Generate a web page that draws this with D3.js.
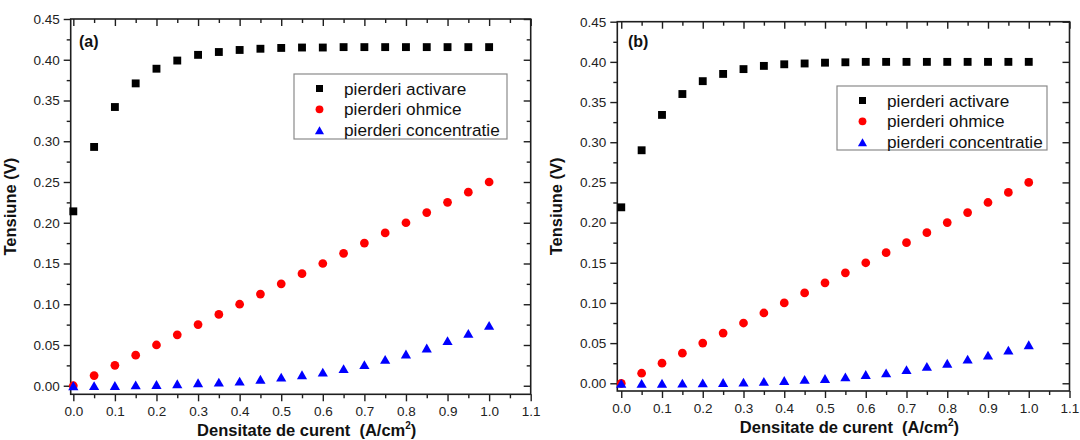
<!DOCTYPE html>
<html>
<head>
<meta charset="utf-8">
<script src="https://cdn.jsdelivr.net/npm/d3@7"></script>
<style>
  html, body { margin: 0; padding: 0; background: #fff; }
  svg { display: block; font-family: Arial, "Liberation Sans", sans-serif; }
</style>
</head>
<body>
<svg id="chart" width="1080" height="440"></svg>
<script>
// Current density (A/cm2), shared by both panels
const currentDensity = [0, 0.05, 0.1, 0.15, 0.2, 0.25, 0.3, 0.35, 0.4, 0.45, 0.5,
                        0.55, 0.6, 0.65, 0.7, 0.75, 0.8, 0.85, 0.9, 0.95, 1.0];

// Panel (a) losses (V)
const activareA = [0.214, 0.293, 0.342, 0.371, 0.389, 0.399, 0.406, 0.4095, 0.412, 0.4135, 0.4145,
                   0.415, 0.415, 0.4155, 0.4155, 0.4155, 0.4155, 0.4155, 0.4155, 0.4155, 0.4155];
const ohmiceA = [0, 0.0125, 0.025, 0.0375, 0.05, 0.0625, 0.075, 0.0875, 0.1, 0.1125, 0.125,
                 0.1375, 0.15, 0.1625, 0.175, 0.1875, 0.2, 0.2125, 0.225, 0.2375, 0.25];
const concentratieA = [0, 0.0001, 0.0003, 0.001, 0.0016, 0.0025, 0.0037, 0.0045, 0.0057, 0.008, 0.0107,
                       0.0135, 0.0168, 0.021, 0.026, 0.0324, 0.039, 0.0463, 0.0553, 0.0643, 0.0742];

// Panel (b) losses (V)
const activareB = [0.219, 0.290, 0.334, 0.360, 0.376, 0.385, 0.391, 0.395, 0.397, 0.398, 0.399,
                   0.3995, 0.400, 0.400, 0.400, 0.400, 0.400, 0.400, 0.400, 0.400, 0.400];
const ohmiceB = [0, 0.0125, 0.025, 0.0375, 0.05, 0.0625, 0.075, 0.0875, 0.1, 0.1125, 0.125,
                 0.1375, 0.15, 0.1625, 0.175, 0.1875, 0.2, 0.2125, 0.225, 0.2375, 0.25];
const concentratieB = [0, 0, 0.0001, 0.0002, 0.0005, 0.001, 0.0015, 0.0025, 0.0035, 0.005, 0.006,
                       0.008, 0.011, 0.013, 0.017, 0.021, 0.025, 0.030, 0.035, 0.0414, 0.048];

// Axis ticks
const xTicks = [0, 0.1, 0.2, 0.3, 0.4, 0.5, 0.6, 0.7, 0.8, 0.9, 1.0, 1.1];
const xMinorTicks = [0.05, 0.15, 0.25, 0.35, 0.45, 0.55, 0.65, 0.75, 0.85, 0.95, 1.05];
const yTicks = [0, 0.05, 0.1, 0.15, 0.2, 0.25, 0.3, 0.35, 0.4, 0.45];
const yMinorTicks = [0.025, 0.075, 0.125, 0.175, 0.225, 0.275, 0.325, 0.375, 0.425];

// Series names
const seriesNames = ["pierderi activare", "pierderi ohmice", "pierderi concentratie"];
const panelLabels = ["(a)", "(b)"];
const xTitle = "Densitate de curent  (A/cm";
const yTitle = "Tensiune (V)";

const svg = d3.select("#chart");
const ink = "#1e1e1e";

const seriesStyle = [
  { symbol: d3.symbolSquare, size: 62, color: "#000000", dy: 0 },
  { symbol: d3.symbolCircle, size: 60, color: "#ff0000", dy: 0 },
  { symbol: d3.symbolTriangle, size: 45, color: "#0000ff", dy: 1.5 }
];

const panels = [
  {
    label: panelLabels[0],
    series: [activareA, ohmiceA, concentratieA],
    left: 70.7, right: 530.7, xMin: -0.0063,
    top: 19, bottom: 394.3, yMin: -0.0105,
    labelX: 79, labelY: 47,
    legend: { x: 294, y: 74, w: 213, h: 65 }
  },
  {
    label: panelLabels[1],
    series: [activareB, ohmiceB, concentratieB],
    left: 617.3, right: 1069.5, xMin: -0.0097,
    top: 21.7, bottom: 391, yMin: -0.0096,
    labelX: 628, labelY: 47,
    legend: { x: 837, y: 86, w: 210, h: 64 }
  }
];

panels.forEach(p => {
  const x = d3.scaleLinear().domain([p.xMin, 1.1]).range([p.left, p.right]);
  const y = d3.scaleLinear().domain([p.yMin, 0.45]).range([p.bottom, p.top]);
  const g = svg.append("g");

  const styleAxis = sel => {
    sel.select(".domain").remove();
    sel.selectAll(".tick line").attr("stroke", ink).attr("stroke-width", 1.4);
    sel.selectAll(".tick text").attr("fill", "#222").style("font-size", "13.5px")
       .style("font-family", "Arial, 'Liberation Sans', sans-serif");
  };

  // bottom axis (outward ticks, labels)
  g.append("g").attr("transform", `translate(0,${p.bottom})`)
    .call(d3.axisBottom(x).tickValues(xTicks).tickSize(7).tickPadding(5).tickFormat(d3.format(".1f")))
    .call(styleAxis);
  g.append("g").attr("transform", `translate(0,${p.bottom})`)
    .call(d3.axisBottom(x).tickValues(xMinorTicks).tickSize(4).tickFormat(""))
    .call(styleAxis);

  // top axis (inward ticks)
  g.append("g").attr("transform", `translate(0,${p.top})`)
    .call(d3.axisBottom(x).tickValues(xTicks).tickSize(7).tickFormat(""))
    .call(styleAxis);
  g.append("g").attr("transform", `translate(0,${p.top})`)
    .call(d3.axisBottom(x).tickValues(xMinorTicks).tickSize(4).tickFormat(""))
    .call(styleAxis);

  // left axis (outward ticks, labels)
  g.append("g").attr("transform", `translate(${p.left},0)`)
    .call(d3.axisLeft(y).tickValues(yTicks).tickSize(7).tickPadding(4).tickFormat(d3.format(".2f")))
    .call(styleAxis);
  g.append("g").attr("transform", `translate(${p.left},0)`)
    .call(d3.axisLeft(y).tickValues(yMinorTicks).tickSize(4).tickFormat(""))
    .call(styleAxis);

  // right axis (inward ticks)
  g.append("g").attr("transform", `translate(${p.right},0)`)
    .call(d3.axisLeft(y).tickValues(yTicks).tickSize(7).tickFormat(""))
    .call(styleAxis);
  g.append("g").attr("transform", `translate(${p.right},0)`)
    .call(d3.axisLeft(y).tickValues(yMinorTicks).tickSize(4).tickFormat(""))
    .call(styleAxis);

  // frame
  g.append("rect")
    .attr("x", p.left).attr("y", p.top)
    .attr("width", p.right - p.left).attr("height", p.bottom - p.top)
    .attr("fill", "none").attr("stroke", ink).attr("stroke-width", 1.6);

  // axis titles
  const xt = g.append("text")
    .attr("x", (p.left + p.right) / 2 + 6).attr("y", p.bottom + 41.5)
    .attr("text-anchor", "middle")
    .style("font-size", "16.5px").style("font-weight", "bold").attr("fill", "#111")
    .style("white-space", "pre");
  xt.append("tspan").text(xTitle);
  xt.append("tspan").attr("dy", -7).style("font-size", "10px").text("2");
  xt.append("tspan").attr("dy", 7).text(")");

  g.append("text")
    .attr("transform", `translate(${p.left - 55},${(p.top + p.bottom) / 2}) rotate(-90)`)
    .attr("text-anchor", "middle")
    .style("font-size", "16.5px").style("font-weight", "bold").attr("fill", "#111")
    .text(yTitle);

  // panel label
  g.append("text")
    .attr("x", p.labelX).attr("y", p.labelY)
    .style("font-size", "16px").style("font-weight", "bold").attr("fill", "#111")
    .text(p.label);

  // data markers
  p.series.forEach((vals, si) => {
    const st = seriesStyle[si];
    const sym = d3.symbol().type(st.symbol).size(st.size);
    g.append("g").selectAll("path")
      .data(currentDensity.map((c, i) => ({ c, v: vals[i] })))
      .join("path")
      .attr("d", sym)
      .attr("fill", st.color)
      .attr("transform", d => `translate(${x(d.c)},${y(d.v) + st.dy})`);
  });

  // legend
  const L = p.legend;
  const lg = g.append("g").attr("transform", `translate(${L.x},${L.y})`);
  lg.append("rect").attr("width", L.w).attr("height", L.h)
    .attr("fill", "#fff").attr("stroke", "#8a8a8a").attr("stroke-width", 1.2);
  seriesNames.forEach((name, i) => {
    const st = seriesStyle[i];
    const ry = 14.5 + i * 20.8;
    lg.append("path")
      .attr("d", d3.symbol().type(st.symbol).size(st.size * 0.8)())
      .attr("fill", st.color)
      .attr("transform", `translate(25.5,${ry + st.dy})`);
    lg.append("text")
      .attr("x", 50).attr("y", ry).attr("dy", "0.35em")
      .style("font-size", "17.2px").attr("fill", "#111")
      .text(name);
  });
});
</script>
</body>
</html>
